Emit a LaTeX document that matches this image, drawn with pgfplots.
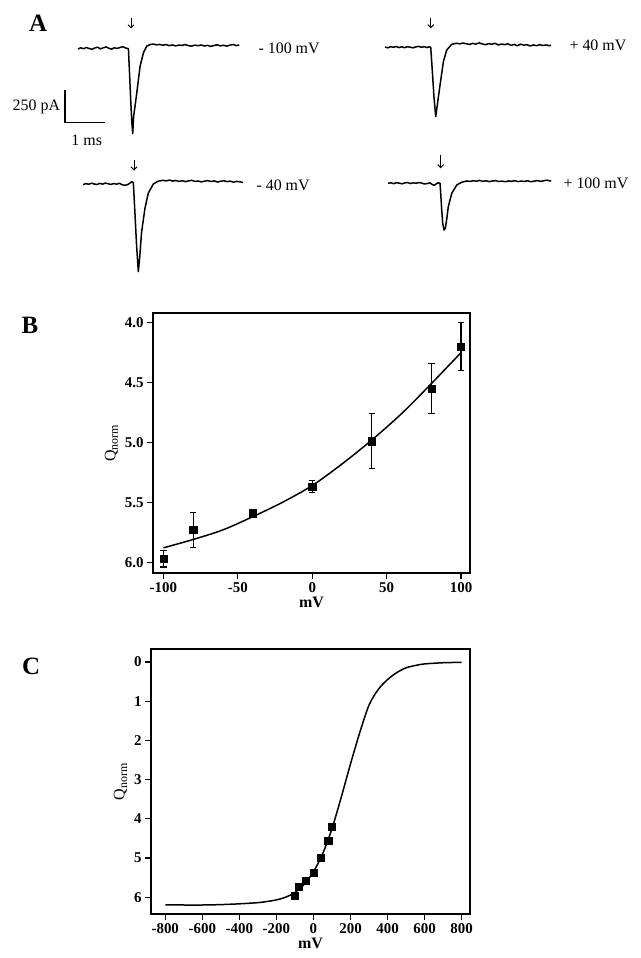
\documentclass[border=0pt]{standalone}
\usepackage{pgfplots}
\pgfplotsset{compat=1.18}
\usetikzlibrary{arrows.meta}
\usepackage{fontspec}
\setmainfont{Liberation Serif}

% current traces: time in ms, current in pA (1 ms = 40bp, 250 pA = 32.7bp)
\pgfplotsset{
  trace/.style={x=40bp, y=0.1308bp, xmin=0, ymin=-700, ymax=300,
    hide axis, clip=false, anchor=south west},
  tr/.style={black, line width=1.5bp, line join=round, no markers},
  panel/.style={scale only axis, anchor=south west, y dir=reverse,
    axis line style={line width=1.6bp}, tick align=outside, tick pos=left,
    major tick length=6bp, major tick style={line width=1.2bp, black},
    tick label style={font=\fontsize{15}{17}\selectfont\bfseries},
    /pgf/number format/assume math mode=true,
    xlabel={\bfseries mV}, ylabel={Q\textsubscript{\large norm}},
    label style={font=\fontsize{16}{18}\selectfont},
    xlabel style={inner sep=1bp}},
}
\tikzset{stim/.style={black, line width=1bp, -{Straight Barb[length=3bp,width=6bp]}}}
\newcommand{\lab}{\fontsize{16}{18}\selectfont}

\begin{document}
\begin{tikzpicture}
\useasboundingbox (0bp,0bp) rectangle (641bp,-958bp);

\node[font=\fontsize{25}{25}\selectfont\bfseries] at (38bp,-23bp) {A};
\node[font=\fontsize{25}{25}\selectfont\bfseries] at (30bp,-325bp) {B};
\node[font=\fontsize{25}{25}\selectfont\bfseries] at (31bp,-666bp) {C};

% -100 mV
\begin{axis}[trace, xmax=4.03, at={(78bp,-140.06bp)}]
\addplot[tr] coordinates {
(0,-4) (0.07,6) (0.14,-2) (0.21,8) (0.28,0) (0.35,-6) (0.42,4) (0.49,10)
(0.56,-3) (0.63,5) (0.70,12) (0.77,2) (0.84,-5) (0.91,6) (0.98,0) (1.05,8)
(1.12,14) (1.19,4) (1.24,0) (1.26,0)
(1.285,-166) (1.318,-396) (1.343,-549) (1.368,-650) (1.39,-520) (1.468,-344)
(1.553,-134) (1.635,-33) (1.718,18) (1.80,30)
(1.88,34) (1.96,28) (2.04,31) (2.12,25) (2.20,30) (2.28,22) (2.36,27) (2.44,20)
(2.52,26) (2.60,24) (2.68,30) (2.76,22) (2.84,18) (2.92,26) (3.00,21) (3.08,27)
(3.16,19) (3.24,24) (3.32,16) (3.40,23) (3.48,28) (3.56,20) (3.64,25) (3.72,18)
(3.80,26) (3.88,30) (3.96,22) (4.03,27)
};
\draw[stim] (axis cs:1.325,233) -- (axis cs:1.325,153);
\addplot[black, line width=1.3bp] coordinates {(-0.325,-317) (-0.325,-567) (0.675,-567)};
\node[anchor=east, font=\lab] at (axis cs:-0.36,-445) {250 pA};
\node[font=\lab] at (axis cs:0.2175,-700) {1 ms};
\end{axis}
\node[anchor=west, font=\lab] at (255bp,-48bp) {- 100 mV};

% -40 mV
\begin{axis}[trace, xmax=4.0, at={(83bp,-275.56bp)}]
\addplot[tr] coordinates {
(0,-5) (0.07,3) (0.14,-2) (0.21,6) (0.28,0) (0.35,-4) (0.42,5) (0.49,-1)
(0.56,7) (0.63,2) (0.70,-3) (0.77,4) (0.84,-2) (0.91,6) (0.98,-6) (1.05,-10)
(1.12,-4) (1.18,8) (1.22,18) (1.258,10)
(1.30,-230) (1.34,-474) (1.383,-670) (1.42,-550) (1.465,-367) (1.55,-184)
(1.633,-69) (1.758,0) (1.883,22) (2.008,28)
(2.08,24) (2.16,30) (2.24,22) (2.32,27) (2.40,20) (2.48,25) (2.56,18) (2.64,24)
(2.72,28) (2.80,20) (2.88,23) (2.96,16) (3.04,22) (3.12,26) (3.20,19) (3.28,24)
(3.36,15) (3.44,21) (3.52,25) (3.60,18) (3.68,22) (3.76,14) (3.84,20) (3.92,17)
(4.0,12)
};
\draw[stim] (axis cs:1.275,180) -- (axis cs:1.275,103);
\end{axis}
\node[anchor=west, font=\lab] at (253bp,-185bp) {- 40 mV};

% +40 mV
\begin{axis}[trace, xmax=4.15, at={(385bp,-138.86bp)}]
\addplot[tr] coordinates {
(0,2) (0.07,-4) (0.14,5) (0.21,0) (0.28,6) (0.35,-2) (0.42,4) (0.49,-3)
(0.56,5) (0.63,1) (0.70,-4) (0.77,3) (0.84,7) (0.91,0) (0.98,5) (1.05,-2)
(1.10,4) (1.143,0)
(1.185,-191) (1.225,-383) (1.268,-530) (1.318,-418) (1.376,-288) (1.46,-109)
(1.543,-21) (1.668,23) (1.793,31)
(1.87,26) (1.95,33) (2.03,27) (2.11,22) (2.19,30) (2.27,24) (2.35,34) (2.43,26)
(2.51,20) (2.59,28) (2.67,23) (2.75,31) (2.83,18) (2.91,25) (2.99,20) (3.07,27)
(3.15,15) (3.23,22) (3.31,12) (3.39,24) (3.47,16) (3.55,20) (3.63,10) (3.71,18)
(3.79,12) (3.87,20) (3.95,14) (4.03,18) (4.10,12) (4.15,16)
};
\draw[stim] (axis cs:1.143,222) -- (axis cs:1.143,145);
\end{axis}
\node[anchor=west, font=\lab] at (566bp,-45bp) {+ 40 mV};

% +100 mV
\begin{axis}[trace, xmax=4.08, at={(388bp,-274.86bp)}]
\addplot[tr] coordinates {
(0,0) (0.07,4) (0.14,-3) (0.21,5) (0.28,1) (0.35,-4) (0.42,3) (0.49,6)
(0.56,-2) (0.63,4) (0.70,0) (0.77,6) (0.84,2) (0.91,-5) (0.98,-2) (1.05,4)
(1.10,-8) (1.15,-15) (1.20,-6) (1.25,4) (1.30,0)
(1.318,-77) (1.343,-204) (1.368,-306) (1.40,-357) (1.433,-344) (1.47,-270)
(1.508,-178) (1.593,-77) (1.718,-13) (1.843,8) (1.968,18)
(2.05,14) (2.13,20) (2.21,16) (2.29,22) (2.37,15) (2.45,19) (2.53,13) (2.61,18)
(2.69,20) (2.77,14) (2.85,17) (2.93,12) (3.01,18) (3.09,15) (3.17,20) (3.25,13)
(3.33,17) (3.41,14) (3.49,19) (3.57,12) (3.65,16) (3.73,21) (3.81,15) (3.89,19)
(3.97,24) (4.05,18) (4.08,20)
};
\draw[stim] (axis cs:1.318,216) -- (axis cs:1.318,115);
\end{axis}
\node[anchor=west, font=\lab] at (560bp,-183bp) {+ 100 mV};

% panel B
\begin{axis}[panel, at={(153bp,-573bp)}, width=317bp, height=260bp,
  xmin=-107, xmax=106, ymin=3.92, ymax=6.09,
  xtick={-100,-50,0,50,100}, ytick={4,4.5,5,5.5,6},
  yticklabel style={/pgf/number format/.cd, fixed, fixed zerofill, precision=1}]
\addplot[black, line width=1.5bp, smooth] coordinates {
(-100,5.88) (-80,5.81) (-60,5.73) (-40,5.62) (-20,5.50) (0,5.36)
(20,5.18) (40,4.98) (60,4.76) (80,4.51) (100,4.25)
};
\addplot[black, only marks, mark=square*, mark size=3.6bp,
  error bars/.cd, y dir=both, y explicit,
  error bar style={line width=1.2bp},
  error mark options={rotate=90, mark size=3.2bp, line width=1.2bp}]
  coordinates {
(-100,5.97) +- (0,0.07)
(-80,5.73) +- (0,0.145)
(-40,5.59) +- (0,0.02)
(0,5.37) +- (0,0.05)
(40,4.99) +- (0,0.23)
(80,4.55) +- (0,0.21)
(100,4.20) +- (0,0.20)
};
\end{axis}

% panel C
\begin{axis}[panel, at={(151bp,-914bp)}, width=319bp, height=265bp,
  xmin=-877, xmax=845, ymin=-0.33, ymax=6.43,
  xtick={-800,-600,-400,-200,0,200,400,600,800}, ytick={0,1,2,3,4,5,6}]
\addplot[black, line width=1.5bp, smooth] coordinates {
(-800,6.20) (-700,6.20) (-600,6.20) (-500,6.19) (-400,6.17) (-300,6.14)
(-250,6.11) (-200,6.07) (-150,6.00) (-100,5.88) (-50,5.67) (0,5.35)
(50,4.89) (100,4.25) (150,3.45) (200,2.60) (250,1.80) (300,1.10)
(350,0.70) (400,0.45) (450,0.27) (500,0.15) (550,0.09) (600,0.05)
(700,0.02) (800,0.01)
};
\addplot[black, only marks, mark=square*, mark size=3.6bp] coordinates {
(-100,5.97) (-80,5.73) (-40,5.59) (0,5.37) (40,4.99) (80,4.55) (100,4.20)
};
\end{axis}
\end{tikzpicture}
\end{document}
